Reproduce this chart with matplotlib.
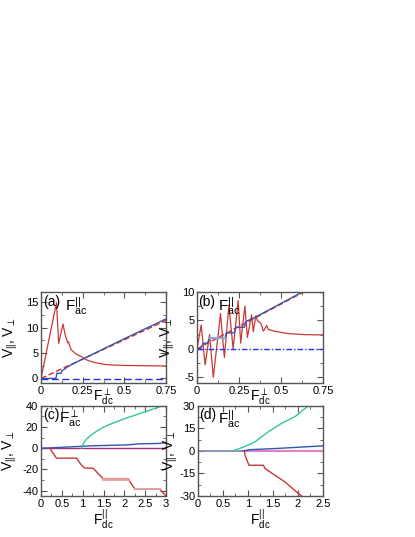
import matplotlib
matplotlib.use("Agg")
import matplotlib.pyplot as plt
from matplotlib.ticker import MultipleLocator

plt.rcParams['font.family'] = ['Liberation Sans', 'DejaVu Sans']
plt.rcParams['mathtext.default'] = 'regular'

# panel (a)
a_red_x = [0, 0.093, 0.106, 0.132, 0.145, 0.16, 0.165, 0.17, 0.182, 0.21, 0.242, 0.27, 0.302, 0.34, 0.382, 0.45, 0.5, 0.6, 0.75]
a_red_y = [0, 14.9, 6.9, 10.7, 8.6, 7.0, 7.2, 6.6, 5.6, 4.8, 4.3, 3.7, 3.3, 3.0, 2.75, 2.6, 2.55, 2.5, 2.45]
a_dash_x = [0, 0.75]
a_dash_y = [0, 11.4]
a_blue_x = [0, 0.09, 0.095, 0.12, 0.125, 0.14, 0.16, 0.2, 0.25, 0.5, 0.75]
a_blue_y = [0, 0, 1.0, 1.0, 1.5, 1.8, 2.3, 3.0, 3.8, 7.8, 11.7]
a_bdash_x = [0, 0.75]
a_bdash_y = [-0.05, -0.05]

# panel (b)
b_red_x = [0, 0.025, 0.048, 0.075, 0.097, 0.14, 0.163, 0.19, 0.215, 0.245, 0.26, 0.285, 0.30,
           0.325, 0.335, 0.35, 0.36, 0.38, 0.395, 0.415, 0.425, 0.46, 0.54, 0.64, 0.75]
b_red_y = [0, 4.2, -2.8, 2.5, -5.0, 6.2, -1.5, 7.7, 0.0, 8.5, 1.0, 7.5, 2.0,
           6.0, 3.0, 5.8, 5.0, 4.5, 3.1, 4.1, 3.4, 3.1, 2.7, 2.5, 2.45]
b_dash_x = [0, 0.75]
b_dash_y = [0, 11.8]
b_blue_x = [0, 0.02, 0.038, 0.063, 0.073, 0.169, 0.173, 0.222, 0.232, 0.282, 0.29, 0.33, 0.64, 0.75]
b_blue_y = [0, 0, 1.0, 1.0, 1.9, 1.9, 2.8, 2.8, 3.8, 3.8, 4.8, 5.3, 10.2, 11.95]
b_bdash_x = [0, 0.75]
b_bdash_y = [0, 0]

# panel (c)
c_green_x = [0.98, 1.0, 1.05, 1.1, 1.21, 1.35, 1.53, 1.73, 1.93, 2.13, 2.33, 2.6, 2.85, 3.0]
c_green_y = [0, 3, 6.2, 8.8, 12.5, 16.3, 20.3, 23.6, 26.6, 29.4, 32, 35.6, 39, 41.5]
c_blue_x = [0, 0.2, 0.5, 1.0, 1.2, 2.0, 2.2, 2.3, 2.8, 3.0]
c_blue_y = [0, 0.2, 0.8, 1.8, 2.2, 3.0, 3.4, 4.0, 4.4, 5.0]
c_mag_x = [0, 3.0]
c_mag_y = [0, 0]
c_red_x = [0.21, 0.37, 0.85, 0.9, 0.95, 1.05, 1.25, 1.35, 1.49, 2.09, 2.25, 2.85, 3.0]
c_red_y = [0, -9.4, -9.4, -12, -15, -18.8, -18.8, -23, -28.7, -28.7, -38.4, -38.4, -45]

# panel (d)
d_green_x = [0.71, 0.87, 1.0, 1.14, 1.27, 1.41, 1.67, 1.94, 2.2, 2.3]
d_green_y = [0, 2, 3.8, 6, 9.3, 12.7, 18.2, 22.7, 29.8, 31]
d_gray_x = [0, 0.94]
d_gray_y = [0, 0]
d_blue_x = [0.9, 0.94, 1.0, 1.6, 2.5]
d_blue_y = [0, 0, 0.7, 1.6, 3.3]
d_pink_x = [0.94, 2.5]
d_pink_y = [0, 0]
d_red_x = [0.93, 0.94, 1.02, 1.31, 1.34, 1.54, 1.74, 1.97, 2.07, 2.15]
d_red_y = [0, -2.9, -9.6, -9.6, -11.8, -16.2, -20.7, -27.3, -30, -31.5]

RED = '#c83838'
BLUE = '#3356b0'
fig = plt.figure(figsize=(4.15, 5.37), dpi=100)

axa = fig.add_axes([0.0988, 0.2868, 0.3012, 0.1695])
axb = fig.add_axes([0.4747, 0.2868, 0.3036, 0.1695])
axc = fig.add_axes([0.0988, 0.0764, 0.3012, 0.1682])
axd = fig.add_axes([0.4771, 0.0764, 0.3012, 0.1682])

axa.plot(a_red_x, a_red_y, color=RED, lw=0.9)
axa.plot(a_dash_x, a_dash_y, color='#ee2020', lw=1, ls=(0, (4, 2)))
axa.plot(a_blue_x, a_blue_y, color=BLUE, lw=1)
axa.plot(a_bdash_x, a_bdash_y, color='#2030ee', lw=1, ls=(0, (5, 2.5)))

axb.plot(b_red_x, b_red_y, color=RED, lw=0.9)
axb.plot(b_dash_x, b_dash_y, color='#ee2020', lw=1, ls=(0, (4, 2)))
axb.plot(b_blue_x, b_blue_y, color=BLUE, lw=1)
axb.plot(b_blue_x[4:6], b_blue_y[4:6], color='#8fa6d8', lw=1.6)
axb.plot(b_bdash_x, b_bdash_y, color='#2030ee', lw=1, ls=(0, (4, 1.5, 1, 1.5)))

axc.plot(c_mag_x, c_mag_y, color='#a03080', lw=1)
axc.plot(c_blue_x, c_blue_y, color=BLUE, lw=1)
axc.plot(c_green_x, c_green_y, color='#30c890', lw=1)
axc.plot(c_red_x, c_red_y, color=RED, lw=1)
axc.plot(c_red_x[8:10], c_red_y[8:10], color='#e8a0a0', lw=2)
axc.plot(c_red_x[10:12], c_red_y[10:12], color='#e0a0a0', lw=1.5)

axd.plot(d_gray_x, d_gray_y, color='#7888a8', lw=1.2)
axd.plot(d_pink_x, d_pink_y, color='#e080c8', lw=1.5)
axd.plot(d_blue_x, d_blue_y, color=BLUE, lw=1)
axd.plot(d_green_x, d_green_y, color='#30c890', lw=1)
axd.plot(d_red_x, d_red_y, color=RED, lw=1)

setup = [
    (axa, (0, 0.75), (-0.9, 17), 0.25, 0.125, 5, 2.5, -0.17),
    (axb, (0, 0.75), (-6, 10), 0.25, 0.125, 5, 2.5, -0.16),
    (axc, (0, 3), (-45, 40), 0.5, 0.25, 20, 10, -0.18),
    (axd, (0, 2.5), (-30, 30), 0.5, 0.25, 15, 7.5, -0.14),
]
for ax, xl, yl, xmaj, xmin, ymaj, ymin, ylx in setup:
    ax.set_xlim(xl)
    ax.set_ylim(yl)
    ax.xaxis.set_major_locator(MultipleLocator(xmaj))
    ax.xaxis.set_minor_locator(MultipleLocator(xmin))
    ax.yaxis.set_major_locator(MultipleLocator(ymaj))
    ax.yaxis.set_minor_locator(MultipleLocator(ymin))
    ax.xaxis.set_major_formatter(plt.FuncFormatter(lambda v, p: f'{v:g}'))
    ax.yaxis.set_major_formatter(plt.FuncFormatter(lambda v, p: f'{v:g}'))
    ax.tick_params(which='both', direction='in', top=True, right=True,
                   labelsize=8, color='#555555', pad=2)
    ax.tick_params(which='major', length=4)
    ax.tick_params(which='minor', length=2)
    for s in ax.spines.values():
        s.set_color('#555555')
        s.set_linewidth(1)
    ax.set_ylabel(r'$V_{||}, V_{\perp}$', fontsize=10)
    ax.yaxis.set_label_coords(ylx, 0.5)

for ax in (axa, axb):
    ax.set_xlabel(r'$F^{\perp}_{dc}$', fontsize=10, labelpad=-7)
for ax in (axc, axd):
    ax.set_xlabel(r'$F^{||}_{dc}$', fontsize=10, labelpad=-1)

axa.text(0.02, 0.97, '(a)', transform=axa.transAxes, fontsize=10, va='top')
axa.text(0.19, 0.97, r'$F^{||}_{ac}$', transform=axa.transAxes, fontsize=11, va='top')
axb.text(0.01, 0.97, '(b)', transform=axb.transAxes, fontsize=10, va='top')
axb.text(0.17, 0.97, r'$F^{||}_{ac}$', transform=axb.transAxes, fontsize=11, va='top')
axc.text(0.02, 0.97, '(c)', transform=axc.transAxes, fontsize=10, va='top')
axc.text(0.145, 0.97, r'$F^{\perp}_{ac}$', transform=axc.transAxes, fontsize=11, va='top')
axd.text(0.01, 0.97, '(d)', transform=axd.transAxes, fontsize=10, va='top')
axd.text(0.16, 0.97, r'$F^{||}_{ac}$', transform=axd.transAxes, fontsize=11, va='top')

fig.savefig('out.png', dpi=100)
